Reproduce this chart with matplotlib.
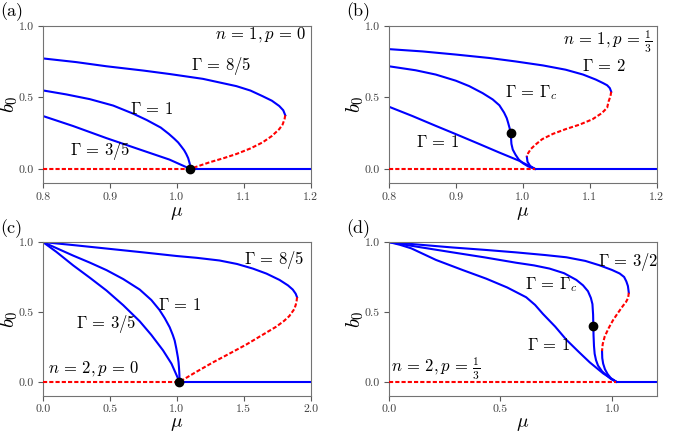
import numpy as np
import matplotlib
matplotlib.use("Agg")
import matplotlib.pyplot as plt

plt.rcParams["font.family"] = "cmr10"
plt.rcParams["mathtext.fontset"] = "cm"
plt.rcParams["axes.formatter.use_mathtext"] = True

# ---- panel (a): n=1, p=0 ----
a_hi_mu = [0.80, 0.85, 0.895, 0.95, 0.989, 1.039, 1.089, 1.110, 1.128, 1.142, 1.153, 1.159, 1.162]
a_hi_b = [0.773, 0.747, 0.718, 0.688, 0.664, 0.630, 0.579, 0.548, 0.509, 0.477, 0.440, 0.410, 0.375]
a_hi_red_mu = [1.162, 1.161, 1.158, 1.153, 1.142, 1.128, 1.110, 1.089, 1.070, 1.049, 1.035, 1.020]
a_hi_red_b = [0.375, 0.350, 0.310, 0.278, 0.230, 0.185, 0.143, 0.104, 0.075, 0.046, 0.024, 0.0]
a_mid_mu = [0.80, 0.835, 0.870, 0.905, 0.935, 0.955, 0.976, 0.988, 0.996, 1.002, 1.007, 1.011,
            1.014, 1.017, 1.0194, 1.020]
a_mid_b = [0.549, 0.521, 0.488, 0.443, 0.386, 0.342, 0.289, 0.245, 0.212, 0.185, 0.155, 0.130,
           0.105, 0.075, 0.035, 0.0]
a_lo_mu = [0.80, 0.845, 0.895, 0.945, 0.989, 1.020]
a_lo_b = [0.370, 0.300, 0.215, 0.135, 0.065, 0.0]
a_crit = (1.02, 0.0)

# ---- panel (b): n=1, p=1/3 ----
b_hi_mu = [0.80, 0.85, 0.90, 0.95, 0.989, 1.030, 1.064, 1.090, 1.109, 1.120, 1.126, 1.130, 1.132]
b_hi_b = [0.838, 0.822, 0.800, 0.776, 0.752, 0.724, 0.694, 0.660, 0.625, 0.600, 0.585, 0.565, 0.540]
b_hi_red_mu = [1.132, 1.131, 1.128, 1.126, 1.118, 1.104, 1.085, 1.064, 1.045, 1.029, 1.019, 1.012, 1.008, 1.006]
b_hi_red_b = [0.540, 0.510, 0.470, 0.428, 0.390, 0.347, 0.310, 0.278, 0.245, 0.208, 0.170, 0.139, 0.110, 0.085]
b_hi_tail_mu = [1.006, 1.007, 1.011, 1.018]
b_hi_tail_b = [0.085, 0.050, 0.020, 0.0]
b_mid_mu = [0.80, 0.84, 0.870, 0.90, 0.920, 0.940, 0.955, 0.965, 0.972, 0.976, 0.978, 0.980, 0.982,
            0.9825, 0.983, 0.985, 0.989, 0.994, 1.000, 1.008, 1.018]
b_mid_b = [0.718, 0.690, 0.660, 0.617, 0.579, 0.530, 0.486, 0.445, 0.394, 0.355, 0.324, 0.290, 0.252,
           0.210, 0.175, 0.135, 0.100, 0.065, 0.040, 0.017, 0.0]
b_lo_mu = [0.80, 0.835, 0.870, 0.900, 0.935, 0.964, 0.994, 1.018]
b_lo_b = [0.435, 0.370, 0.301, 0.243, 0.174, 0.116, 0.058, 0.0]
b_crit = (0.982, 0.252)

# ---- panel (c): n=2, p=0 ----
c_hi_mu = [0.0, 0.25, 0.5, 0.75, 1.0, 1.15, 1.319, 1.45, 1.568, 1.67, 1.767, 1.83, 1.866, 1.888, 1.898]
c_hi_b = [1.0, 0.976, 0.951, 0.926, 0.900, 0.887, 0.868, 0.843, 0.810, 0.774, 0.729, 0.690, 0.660, 0.630, 0.605]
c_hi_red_mu = [1.898, 1.895, 1.888, 1.878, 1.84, 1.80, 1.742, 1.63, 1.518, 1.39, 1.270, 1.14, 1.021]
c_hi_red_b = [0.605, 0.580, 0.550, 0.521, 0.470, 0.435, 0.394, 0.330, 0.266, 0.200, 0.139, 0.068, 0.0]
c_mid_mu = [0.0, 0.1, 0.226, 0.35, 0.475, 0.6, 0.723, 0.81, 0.87, 0.91, 0.947, 0.97, 0.984, 0.996,
            1.008, 1.013, 1.016, 1.018, 1.0195, 1.020]
c_mid_b = [1.0, 0.957, 0.903, 0.853, 0.799, 0.735, 0.660, 0.585, 0.515, 0.455, 0.390, 0.335, 0.295, 0.240,
           0.175, 0.140, 0.105, 0.075, 0.045, 0.0]
c_lo_mu = [0.0, 0.1, 0.226, 0.35, 0.475, 0.6, 0.723, 0.81, 0.897, 0.96, 1.020]
c_lo_b = [1.0, 0.930, 0.833, 0.745, 0.653, 0.548, 0.433, 0.335, 0.225, 0.130, 0.0]
c_crit = (1.02, 0.0)

# ---- panel (d): n=2, p=1/3 ----
d_hi_mu = [0.0, 0.145, 0.286, 0.43, 0.570, 0.70, 0.795, 0.88, 0.945, 1.0, 1.034, 1.054, 1.064, 1.071, 1.075]
d_hi_b = [1.0, 0.980, 0.961, 0.944, 0.926, 0.907, 0.891, 0.865, 0.833, 0.800, 0.775, 0.750, 0.718, 0.685, 0.637]
d_hi_red_mu = [1.075, 1.072, 1.062, 1.049, 1.025, 1.004, 0.985, 0.967, 0.958, 0.955]
d_hi_red_b = [0.637, 0.600, 0.570, 0.544, 0.490, 0.440, 0.385, 0.324, 0.270, 0.220]
d_hi_tail_mu = [0.955, 0.956, 0.960, 0.968, 0.980, 0.995, 1.019]
d_hi_tail_b = [0.220, 0.170, 0.130, 0.090, 0.055, 0.025, 0.0]
d_mid_mu = [0.0, 0.14, 0.286, 0.43, 0.570, 0.650, 0.720, 0.785, 0.840, 0.870, 0.892, 0.905, 0.912, 0.915,
            0.916, 0.917, 0.919, 0.922, 0.928, 0.937, 0.955, 0.975, 0.995, 1.019]
d_mid_b = [1.0, 0.963, 0.926, 0.890, 0.852, 0.833, 0.810, 0.777, 0.729, 0.690, 0.648, 0.600, 0.556, 0.480,
           0.400, 0.330, 0.255, 0.200, 0.155, 0.116, 0.075, 0.046, 0.020, 0.0]
d_lo_mu = [0.0, 0.05, 0.100, 0.211, 0.33, 0.436, 0.530, 0.615, 0.655, 0.690, 0.745, 0.795, 0.850, 0.900, 0.960, 1.019]
d_lo_b = [1.0, 0.980, 0.955, 0.872, 0.800, 0.738, 0.675, 0.605, 0.550, 0.486, 0.395, 0.301, 0.215, 0.139, 0.060, 0.0]
d_crit = (0.916, 0.400)

BLUE = "blue"
RED = "red"
LW = 1.5
DASH = (2, 1)


def draw_panel(ax, xlim, mu_c, blue_curves, red_curves, crit, labels, xticks, xlab_y=-0.13):
    # trivial branch: unstable (red) below mu_c, stable (blue) above
    ax.plot([xlim[0], mu_c], [0, 0], color=RED, lw=LW, dashes=DASH, zorder=3)
    ax.plot([mu_c, xlim[1]], [0, 0], color=BLUE, lw=LW, zorder=2)
    for mu, b in blue_curves:
        ax.plot(mu, b, color=BLUE, lw=LW, zorder=2, solid_joinstyle="round")
    for mu, b in red_curves:
        ax.plot(mu, b, color=RED, lw=LW, dashes=DASH, zorder=3)
    ax.plot(*crit, "o", color="black", ms=6, zorder=5)
    for x, y, s, ha in labels:
        ax.text(x, y, s, ha=ha, va="center", fontsize=12)
    ax.set_xlim(xlim)
    ax.set_ylim(-0.1, 1.0)
    ax.set_xticks(xticks)
    ax.set_yticks([0.0, 0.5, 1.0])
    ax.xaxis.set_major_formatter(matplotlib.ticker.FormatStrFormatter("%.1f"))
    ax.yaxis.set_major_formatter(matplotlib.ticker.FormatStrFormatter("%.1f"))
    ax.tick_params(labelsize=8.5, colors="0.35", labelcolor="0.25", length=3.5, pad=3)
    for sp in ax.spines.values():
        sp.set_color("0.45")
    ax.set_xlabel(r"$\mu$", fontsize=14)
    ax.set_ylabel(r"$b_0$", fontsize=15)
    ax.xaxis.set_label_coords(0.5, xlab_y)
    ax.yaxis.set_label_coords(-0.085, 0.5)


fig = plt.figure(figsize=(6.92, 4.33), dpi=100)
axa = fig.add_axes([0.062, 0.577, 0.387, 0.363])
axb = fig.add_axes([0.562, 0.577, 0.387, 0.363])
axc = fig.add_axes([0.062, 0.086, 0.387, 0.355])
axd = fig.add_axes([0.562, 0.086, 0.387, 0.355])

draw_panel(axa, (0.8, 1.2), 1.02,
           [(a_hi_mu, a_hi_b), (a_mid_mu, a_mid_b), (a_lo_mu, a_lo_b)],
           [(a_hi_red_mu, a_hi_red_b)], a_crit,
           [(1.193, 0.94, r"$n\,=\,1,p\,=\,0$", "right"),
            (1.066, 0.718, r"$\Gamma\,=\,8/5$", "center"),
            (0.962, 0.417, r"$\Gamma\,=\,1$", "center"),
            (0.885, 0.127, r"$\Gamma\,=\,3/5$", "center")],
           [0.8, 0.9, 1.0, 1.1, 1.2])

draw_panel(axb, (0.8, 1.2), 1.018,
           [(b_hi_mu, b_hi_b), (b_hi_tail_mu, b_hi_tail_b), (b_mid_mu, b_mid_b), (b_lo_mu, b_lo_b)],
           [(b_hi_red_mu, b_hi_red_b)], b_crit,
           [(1.193, 0.89, r"$n\,=\,1,p\,=\,\frac{1}{3}$", "right"),
            (1.121, 0.718, r"$\Gamma\,=\,2$", "center"),
            (1.012, 0.532, r"$\Gamma\,=\,\Gamma_c$", "center"),
            (0.873, 0.185, r"$\Gamma\,=\,1$", "center")],
           [0.8, 0.9, 1.0, 1.1, 1.2])

draw_panel(axc, (0.0, 2.0), 1.02,
           [(c_hi_mu, c_hi_b), (c_mid_mu, c_mid_b), (c_lo_mu, c_lo_b)],
           [(c_hi_red_mu, c_hi_red_b)], c_crit,
           [(0.04, 0.093, r"$n\,=\,2,p\,=\,0$", "left"),
            (1.729, 0.868, r"$\Gamma\,=\,8/5$", "center"),
            (1.021, 0.551, r"$\Gamma\,=\,1$", "center"),
            (0.475, 0.417, r"$\Gamma\,=\,3/5$", "center")],
           [0.0, 0.5, 1.0, 1.5, 2.0], xlab_y=-0.125)

draw_panel(axd, (0.0, 1.2), 1.019,
           [(d_hi_mu, d_hi_b), (d_hi_tail_mu, d_hi_tail_b), (d_mid_mu, d_mid_b), (d_lo_mu, d_lo_b)],
           [(d_hi_red_mu, d_hi_red_b)], d_crit,
           [(0.01, 0.093, r"$n\,=\,2,p\,=\,\frac{1}{3}$", "left"),
            (1.072, 0.856, r"$\Gamma\,=\,3/2$", "center"),
            (0.728, 0.694, r"$\Gamma\,=\,\Gamma_c$", "center"),
            (0.713, 0.266, r"$\Gamma\,=\,1$", "center")],
           [0.0, 0.5, 1.0], xlab_y=-0.125)

for lbl, x, y in [("(a)", 0.0, 0.972), ("(b)", 0.5, 0.972), ("(c)", 0.0, 0.472), ("(d)", 0.5, 0.472)]:
    fig.text(x, y, lbl, fontsize=13, ha="left", va="center")

fig.savefig("out.png", dpi=100)
